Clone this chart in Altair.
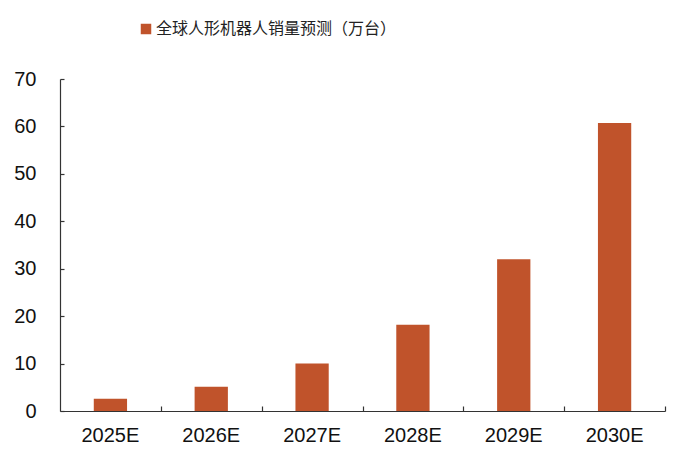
import altair as alt
import pandas as pd

years = ["2025E", "2026E", "2027E", "2028E", "2029E", "2030E"]
sales = [2.6, 5.1, 10.0, 18.2, 32.0, 60.7]
series_name = "全球人形机器人销量预测（万台）"
y_ticks = [0, 10, 20, 30, 40, 50, 60, 70]

df = pd.DataFrame({"year": years, "sales": sales, "series": [series_name] * len(years)})

BAR = "#C0532B"
AXIS = "#333333"
FONT = "Liberation Sans"
W = 605
STEP = W / len(years)

xscale = alt.Scale(paddingInner=0.67, paddingOuter=0.335)
yscale = alt.Scale(domain=[0, 70], nice=False)

base = alt.Chart(df)

bars = base.mark_bar(color=BAR).encode(
    x=alt.X("year:N", sort=years, scale=xscale, title=None,
            axis=alt.Axis(orient="bottom", labelAngle=0, ticks=False, domain=True,
                          domainColor=AXIS, domainWidth=1.2, labelFont=FONT,
                          labelFontSize=20, labelColor="#111", labelPadding=14, grid=False)),
    y=alt.Y("sales:Q", scale=yscale, title=None,
            axis=alt.Axis(orient="left", values=y_ticks, ticks=False, domain=True,
                          domainColor=AXIS, domainWidth=1.2, labelFont=FONT,
                          labelFontSize=20, labelColor="#111", labelPadding=24, grid=False)),
    color=alt.Color("series:N", scale=alt.Scale(range=[BAR]),
                    legend=alt.Legend(title=None, orient="none", legendX=78, legendY=-58,
                                      symbolType="square", symbolSize=110,
                                      symbolStrokeWidth=0, labelFontSize=16,
                                      labelFont="Noto Sans CJK SC", labelColor="#222",
                                      padding=0, labelOffset=2, labelLimit=400)),
)

tick_layer = base.mark_bar(opacity=0).encode(
    x=alt.X("year:N", sort=years, scale=xscale, title=None,
            axis=alt.Axis(orient="bottom", offset=-5, tickSize=5, tickOffset=STEP / 2,
                          tickColor=AXIS, tickWidth=1.2, labels=False, domain=False, grid=False)),
    y=alt.Y("sales:Q", scale=yscale, title=None,
            axis=alt.Axis(orient="left", offset=-4, values=y_ticks, tickSize=4,
                          tickColor=AXIS, tickWidth=1.2, labels=False, domain=False, grid=False)),
)

chart = alt.layer(bars, tick_layer).resolve_axis(x="independent", y="independent").properties(
    width=W,
    height=332,
    background="white",
    autosize=alt.AutoSizeParams(type="none"),
    padding={"left": 52, "top": 71, "right": 27, "bottom": 39},
).configure_view(stroke=None)

chart.save("out.html", embed_options={"renderer": "svg", "actions": False})
